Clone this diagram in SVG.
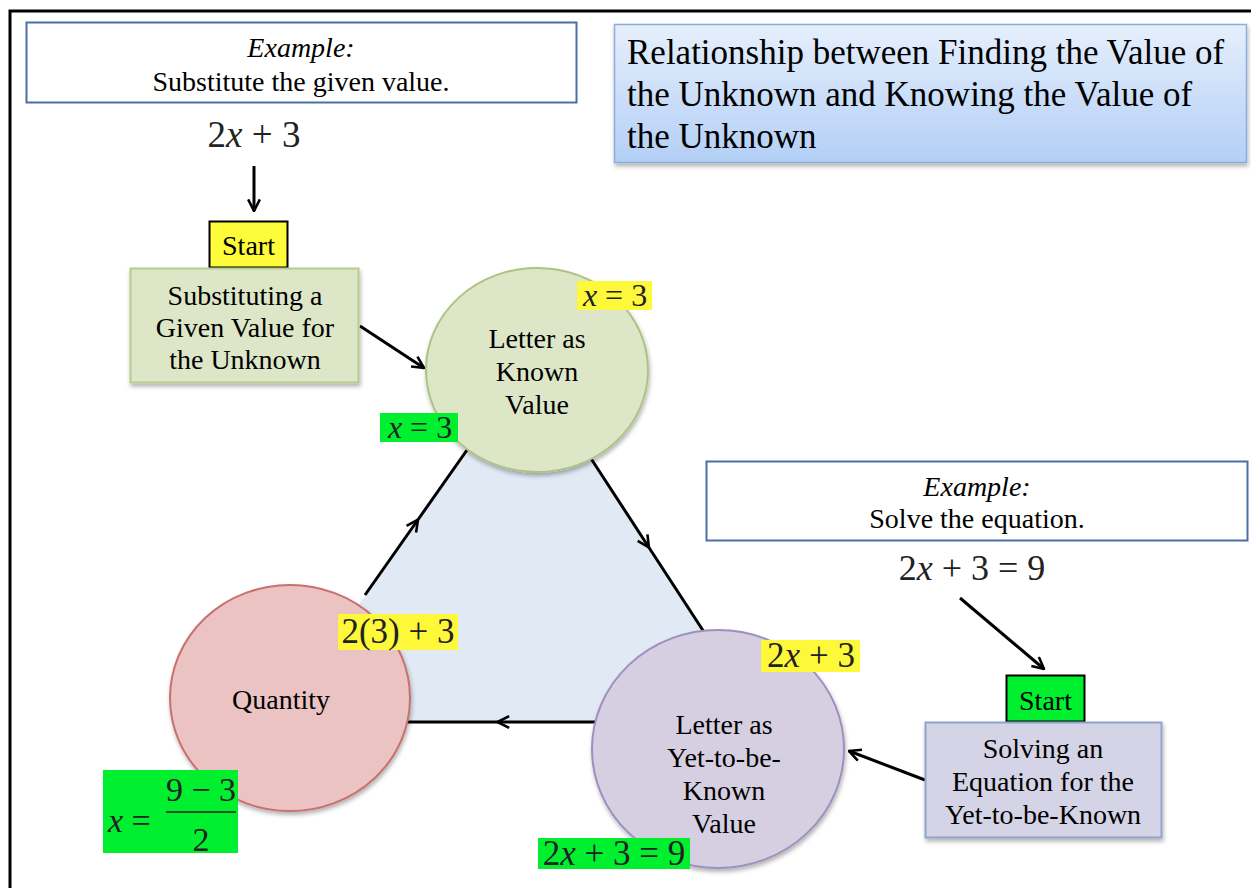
<svg xmlns="http://www.w3.org/2000/svg" width="1251" height="888" viewBox="0 0 1251 888">
<defs>
<style>
.t{font-family:"Liberation Serif","Times New Roman",serif;fill:#000;font-size:28px;}
.m{font-family:"Liberation Serif","Times New Roman",serif;fill:#222;}
.c{text-anchor:middle;}
.i{font-style:italic;}
.conn{stroke:#000;stroke-width:3;fill:none;}
.ybox{fill:#fdf93a;}
.gbox{fill:#00f030;}
</style>
<marker id="arr" viewBox="0 0 12 12" refX="11" refY="6" markerWidth="14" markerHeight="14" orient="auto" markerUnits="userSpaceOnUse">
<path d="M1,1 L11,6 L1,11" fill="none" stroke="#000" stroke-width="2.2"/>
</marker>
<marker id="mid" viewBox="0 0 12 12" refX="8" refY="6" markerWidth="14" markerHeight="14" orient="auto" markerUnits="userSpaceOnUse">
<path d="M1,1 L11,6 L1,11" fill="none" stroke="#000" stroke-width="2.2"/>
</marker>
<linearGradient id="tg" x1="0" y1="0" x2="0" y2="1">
<stop offset="0" stop-color="#e6effc"/>
<stop offset="1" stop-color="#b3cff6"/>
</linearGradient>
<filter id="sh" x="-10%" y="-10%" width="125%" height="125%">
<feDropShadow dx="1" dy="3" stdDeviation="2" flood-color="#000" flood-opacity="0.3"/>
</filter>
</defs>
<rect width="1251" height="888" fill="#fff"/>
<path d="M10,888 L10,11 L1251,11" fill="none" stroke="#000" stroke-width="3"/>

<g id="triangle">
<polygon points="528,365 276,722 763,722" fill="#e0e9f4"/>
</g>

<g id="connectors">
<path class="conn" d="M365,595 L416,522.5 L467,450" marker-mid="url(#mid)"/>
<path class="conn" d="M590,457 L647,544.5 L704,632" marker-mid="url(#mid)"/>
<path class="conn" d="M596,722 L501,722 L406,722" marker-mid="url(#mid)"/>
<path class="conn" d="M254,166 L254,211" marker-end="url(#arr)"/>
<path class="conn" d="M360,326 L424,368" marker-end="url(#arr)"/>
<path class="conn" d="M960,598 L1044,669" marker-end="url(#arr)"/>
<path class="conn" d="M925,780 L849,751" marker-end="url(#arr)"/>
</g>

<g id="example1">
<rect x="26.5" y="22.5" width="550" height="80" fill="#fff" stroke="#4a6fa5" stroke-width="2"/>
<text class="t c i" x="301" y="57">Example:</text>
<text class="t c" x="301" y="91">Substitute the given value.</text>
<text class="m c" x="254" y="147" font-size="37">2<tspan class="i">x</tspan> + 3</text>
</g>

<g id="start1">
<rect x="209.5" y="221.5" width="78" height="46" fill="#fdfb3a" stroke="#000" stroke-width="2"/>
<text class="t c" x="248.5" y="255">Start</text>
</g>

<g id="substituting">
<rect x="130.5" y="268.5" width="228" height="114" fill="#dde7c8" stroke="#b7cb8e" stroke-width="2" filter="url(#sh)"/>
<text class="t c" x="245" y="305">Substituting a</text>
<text class="t c" x="245" y="337">Given Value for</text>
<text class="t c" x="245" y="369">the Unknown</text>
</g>

<g id="title">
<rect x="614.5" y="24.5" width="632" height="138" fill="url(#tg)" stroke="#8cadd9" stroke-width="1.5" filter="url(#sh)"/>
<text class="t" x="627" y="64" font-size="35" style="font-size:35px">Relationship between Finding the Value of</text>
<text class="t" x="627" y="106" style="font-size:35px">the Unknown and Knowing the Value of</text>
<text class="t" x="627" y="148" style="font-size:35px">the Unknown</text>
</g>

<g id="known">
<ellipse cx="537" cy="370" rx="111" ry="102" fill="#dde7c8" stroke="#adc283" stroke-width="2" filter="url(#sh)"/>
<text class="t c" x="537" y="348">Letter as</text>
<text class="t c" x="537" y="381">Known</text>
<text class="t c" x="537" y="414">Value</text>
<rect class="ybox" x="577" y="281" width="75" height="29"/>
<text class="m c" x="615" y="306" font-size="32"><tspan class="i">x</tspan> = 3</text>
<rect class="gbox" x="380" y="413" width="78" height="29"/>
<text class="m c" x="420" y="438" font-size="32"><tspan class="i">x</tspan> = 3</text>
</g>

<g id="quantity">
<ellipse cx="290" cy="698" rx="120" ry="113" fill="#ebc3c3" stroke="#c8706e" stroke-width="2" filter="url(#sh)"/>
<text class="t c" x="281" y="709">Quantity</text>
<rect class="ybox" x="338" y="614" width="120" height="36"/>
<text class="m c" x="398" y="643" font-size="35">2(3) + 3</text>
<rect class="gbox" x="103" y="770" width="135" height="83"/>
<text class="m" x="108" y="832" font-size="34"><tspan class="i">x</tspan> =</text>
<text class="m c" x="201" y="801" font-size="34">9 − 3</text>
<line x1="166" y1="812" x2="236" y2="812" stroke="#222" stroke-width="1.5"/>
<text class="m c" x="201" y="851" font-size="34">2</text>
</g>

<g id="yettobe">
<ellipse cx="718" cy="749" rx="126" ry="119" fill="#d5cfe1" stroke="#9d8fbf" stroke-width="2" filter="url(#sh)"/>
<text class="t c" x="724" y="734">Letter as</text>
<text class="t c" x="724" y="767">Yet-to-be-</text>
<text class="t c" x="724" y="800">Known</text>
<text class="t c" x="724" y="833">Value</text>
<rect class="ybox" x="761" y="640" width="99" height="32"/>
<text class="m c" x="811" y="667" font-size="35">2<tspan class="i">x</tspan> + 3</text>
<rect class="gbox" x="538" y="838" width="152" height="31"/>
<text class="m c" x="614" y="865" font-size="35">2<tspan class="i">x</tspan> + 3 = 9</text>
</g>

<g id="example2">
<rect x="706.5" y="461.5" width="541" height="79" fill="#fff" stroke="#4a6fa5" stroke-width="2"/>
<text class="t c i" x="977" y="496">Example:</text>
<text class="t c" x="977" y="528">Solve the equation.</text>
<text class="m c" x="972" y="580" font-size="36">2<tspan class="i">x</tspan> + 3 = 9</text>
</g>

<g id="start2">
<rect x="1006.5" y="675.5" width="78" height="46" fill="#00f030" stroke="#000" stroke-width="2"/>
<text class="t c" x="1045.5" y="710">Start</text>
</g>

<g id="solving">
<rect x="925.5" y="722.5" width="236" height="115" fill="#d5d3e6" stroke="#8ea4cc" stroke-width="2" filter="url(#sh)"/>
<text class="t c" x="1043" y="758">Solving an</text>
<text class="t c" x="1043" y="791">Equation for the</text>
<text class="t c" x="1043" y="824">Yet-to-be-Known</text>
</g>
</svg>
